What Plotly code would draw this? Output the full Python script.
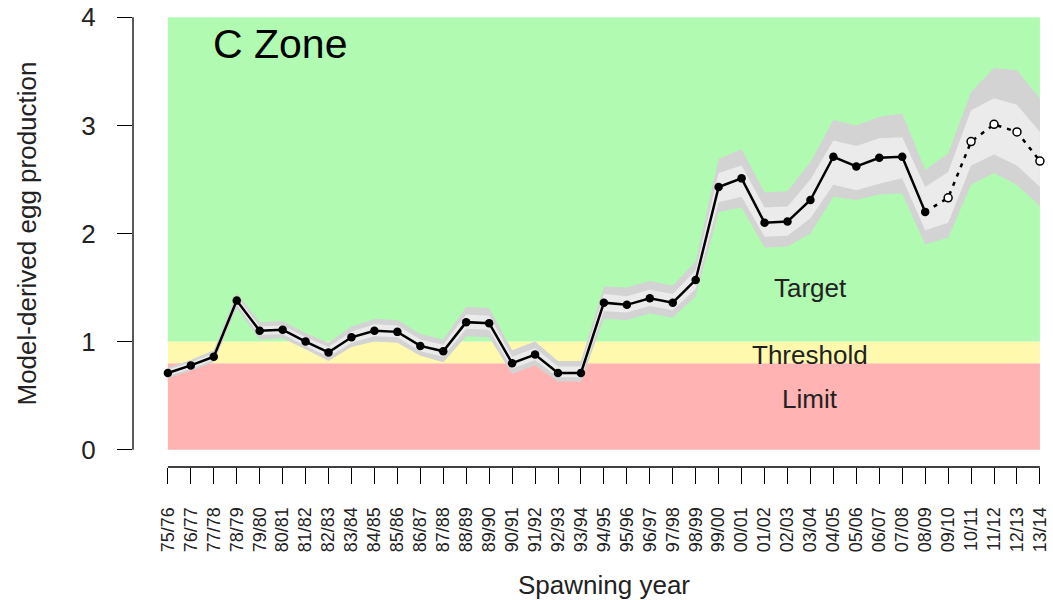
import plotly.graph_objects as go

years = ["75/76","76/77","77/78","78/79","79/80","80/81","81/82","82/83","83/84","84/85",
         "85/86","86/87","87/88","88/89","89/90","90/91","91/92","92/93","93/94","94/95",
         "95/96","96/97","97/98","98/99","99/00","00/01","01/02","02/03","03/04","04/05",
         "05/06","06/07","07/08","08/09","09/10","10/11","11/12","12/13","13/14"]

# model-derived egg production (observed years 75/76 .. 08/09)
egg = [0.71,0.78,0.86,1.38,1.10,1.11,1.00,0.90,1.04,1.10,
       1.09,0.96,0.91,1.18,1.17,0.80,0.88,0.71,0.71,1.36,
       1.34,1.40,1.36,1.57,2.43,2.51,2.10,2.11,2.31,2.71,
       2.62,2.70,2.71,2.20]
# projections 09/10 .. 13/14
proj = [2.33,2.85,3.01,2.94,2.67]

outer_hi = [0.76,0.83,0.92,1.45,1.18,1.19,1.08,0.99,1.14,1.21,
            1.20,1.07,1.02,1.32,1.31,0.92,1.00,0.82,0.82,1.51,
            1.50,1.56,1.52,1.74,2.69,2.78,2.38,2.39,2.66,3.05,
            3.00,3.08,3.11,2.59,2.74,3.31,3.53,3.51,3.25]
outer_lo = [0.66,0.73,0.81,1.31,1.02,1.03,0.93,0.82,0.95,1.00,
            0.99,0.87,0.81,1.05,1.04,0.70,0.78,0.63,0.63,1.21,
            1.20,1.26,1.22,1.42,2.20,2.24,1.87,1.88,2.00,2.34,
            2.31,2.36,2.37,1.90,1.96,2.45,2.56,2.45,2.25]
inner_hi = [0.74,0.81,0.89,1.42,1.14,1.15,1.04,0.95,1.09,1.16,
            1.15,1.02,0.97,1.25,1.24,0.86,0.94,0.77,0.77,1.44,
            1.42,1.48,1.44,1.66,2.56,2.63,2.24,2.25,2.50,2.86,
            2.81,2.88,2.89,2.43,2.57,3.14,3.25,3.19,2.94]
inner_lo = [0.68,0.75,0.83,1.34,1.06,1.07,0.96,0.86,0.99,1.05,
            1.04,0.91,0.86,1.12,1.11,0.75,0.83,0.67,0.67,1.28,
            1.27,1.33,1.29,1.49,2.29,2.34,1.97,1.98,2.14,2.45,
            2.40,2.46,2.51,2.03,2.10,2.63,2.73,2.63,2.43]

# reference zones (limit, threshold, target)
zone_names = ["Limit", "Threshold", "Target"]
zone_lo = [0.0, 0.8, 1.0]
zone_hi = [0.8, 1.0, 4.0]
zone_colors = ["#FFB3B3", "#FFF9AE", "#B1FAB1"]
zone_label_y = [0.47, 0.88, 1.50]

FONT = "Liberation Sans, Arial, sans-serif"
n = len(years)
xi = list(range(n))
XMIN, XMAX = -1.52, 38.57
YMIN, YMAX = -0.16, 4.16

fig = go.Figure()

def band(lo, hi, color):
    fig.add_trace(go.Scatter(
        x=xi + xi[::-1], y=hi + lo[::-1], fill="toself", fillcolor=color,
        line=dict(width=0, color=color), mode="lines", hoverinfo="skip", showlegend=False))

band(outer_lo, outer_hi, "#D3D3D3")
band(inner_lo, inner_hi, "#EBEBEB")

# projection (dotted, open circles)
nobs = len(egg)
fig.add_trace(go.Scatter(
    x=xi[nobs-1:], y=[egg[-1]] + proj, mode="lines",
    line=dict(color="black", width=2.5, dash="4px,6px"), showlegend=False))
fig.add_trace(go.Scatter(
    x=xi[nobs:], y=proj, mode="markers",
    marker=dict(symbol="circle", size=8, color="white", line=dict(color="black", width=1.5)),
    showlegend=False))

# observed
fig.add_trace(go.Scatter(
    x=xi[:nobs], y=egg, mode="lines+markers",
    line=dict(color="black", width=2.5),
    marker=dict(symbol="circle", size=8.5, color="black"), showlegend=False))

shapes = []
for lo, hi, c in zip(zone_lo, zone_hi, zone_colors):
    shapes.append(dict(type="rect", xref="x", yref="y", x0=0, x1=n-1, y0=lo, y1=hi,
                       fillcolor=c, line=dict(width=0), layer="below"))

# R-style axis lines spanning first..last tick
def px(v):
    return (v - XMIN) / (XMAX - XMIN)
def py(v):
    return (v - YMIN) / (YMAX - YMIN)
shapes.append(dict(type="line", xref="paper", yref="paper", x0=0, x1=0, y0=py(0), y1=py(4),
                   line=dict(color="black", width=1.3)))
shapes.append(dict(type="line", xref="paper", yref="paper", x0=px(0), x1=px(n-1), y0=0, y1=0,
                   line=dict(color="black", width=1.3)))

annotations = [
    dict(text="C Zone", xref="x", yref="y", x=1.9, y=3.75, xanchor="left", yanchor="middle",
         showarrow=False, font=dict(family=FONT, size=41, color="black")),
    dict(text="Model-derived egg production", xref="paper", yref="y", x=0, xshift=-107, y=2.0,
         textangle=-90, xanchor="center", yanchor="middle", showarrow=False,
         font=dict(family=FONT, size=26, color="#222222")),
    dict(text="Spawning year", xref="x", yref="paper", x=19, y=-0.2527, xanchor="center",
         yanchor="middle", showarrow=False, font=dict(family=FONT, size=26, color="#222222")),
]
for name, yv in zip(zone_names, zone_label_y):
    annotations.append(dict(text=name, xref="x", yref="y", x=28.0, y=yv, xanchor="center",
                            yanchor="middle", showarrow=False,
                            font=dict(family=FONT, size=26, color="#222222")))

fig.update_layout(
    width=1053, height=600,
    margin=dict(l=133, r=0, t=0, b=133),
    plot_bgcolor="white", paper_bgcolor="white",
    shapes=shapes, annotations=annotations,
    xaxis=dict(range=[XMIN, XMAX], tickmode="array", tickvals=xi, ticktext=years,
               tickangle=-90, ticks="outside", ticklen=16, tickwidth=1.3, tickcolor="black",
               ticklabelstandoff=16, showgrid=False, zeroline=False, showline=False,
               tickfont=dict(family=FONT, size=18, color="#222222")),
    yaxis=dict(range=[YMIN, YMAX], tickmode="array", tickvals=[0, 1, 2, 3, 4],
               ticks="outside", ticklen=15, tickwidth=1.3, tickcolor="black",
               ticklabelstandoff=16, showgrid=False, zeroline=False, showline=False,
               tickfont=dict(family=FONT, size=26, color="#222222")),
)

fig.write_html("out.html", config={"displayModeBar": False},
               post_script="document.body.style.margin='0';document.body.style.overflow='hidden';")
